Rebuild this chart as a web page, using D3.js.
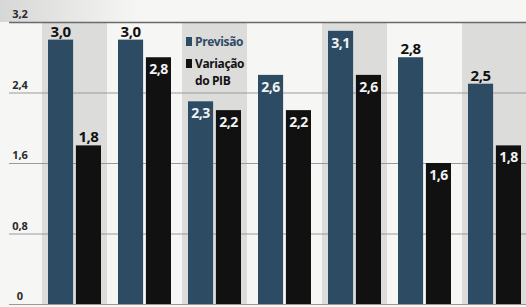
<!DOCTYPE html>
<html>
<head>
<meta charset="utf-8">
<script src="https://cdn.jsdelivr.net/npm/d3@7"></script>
<style>
  body { margin: 0; background: #f6f6f4; }
  svg { display: block; font-family: "Open Sans", sans-serif; }
</style>
</head>
<body>
<script>
// the chart data (no category labels are visible)
let groups = ["1", "2", "3", "4", "5", "6", "7"];
let previsao = [3.0, 3.0, 2.3, 2.6, 3.1, 2.8, 2.5];
let variacao = [1.8, 2.8, 2.2, 2.2, 2.6, 1.6, 1.8];
let yTicks = [0, 0.8, 1.6, 2.4, 3.2];
let seriesNames = ["Previsão", "Variação do PIB"];

let w = 526;
let h = 307;

let blue = "#2e4b64";
let black = "#111111";

// which value labels sit inside the bar top (white) instead of above it
let insidePrev = [false, false, true, true, true, false, false];
let insideVar = [false, true, true, true, true, true, true];

let fmt = (v) => d3.format(".1f")(v).replace(".", ",");

let svg = d3.select("body").append("svg").attr("width", w).attr("height", h);

let yScale = d3.scaleLinear().domain([0, 3.2]).range([304, 22]);

let xScale = d3.scaleBand().domain(groups).range([39, 529]).paddingInner(0);

let xInner = d3.scaleBand()
  .domain(seriesNames)
  .range([9, 62])
  .paddingInner(0.1);

// faint haze at the top left of the scan
let defs = svg.append("defs");
let grad = defs.append("linearGradient").attr("id", "haze")
  .attr("x1", 0).attr("x2", 1).attr("y1", 0).attr("y2", 0);
grad.append("stop").attr("offset", 0).attr("stop-color", "#cfcfcf").attr("stop-opacity", 0.8);
grad.append("stop").attr("offset", 1).attr("stop-color", "#cfcfcf").attr("stop-opacity", 0);
svg.append("rect")
  .attr("x", 0).attr("y", 0)
  .attr("width", 140).attr("height", yScale(3.2))
  .style("fill", "url(#haze)");

// alternating grey columns behind every other group
svg.append("g")
  .selectAll("rect")
  .data(groups.filter((d, i) => i % 2 == 0))
  .enter()
  .append("rect")
  .attr("x", (d) => xScale(d) + 3)
  .attr("y", yScale(3.2))
  .attr("width", xScale.bandwidth() - 5)
  .attr("height", yScale(0) - yScale(3.2))
  .style("fill", "#dcdcdb");

// gridlines
svg.append("g")
  .selectAll("line")
  .data(yTicks)
  .enter()
  .append("line")
  .attr("x1", 9)
  .attr("x2", w)
  .attr("y1", (d) => yScale(d) + 0.5)
  .attr("y2", (d) => yScale(d) + 0.5)
  .style("stroke", (d) => d == 3.2 ? "#6a6a6a" : "#9a9a9a")
  .style("stroke-width", (d) => d == 3.2 ? 1.5 : 1);

// y labels sit just above each gridline
svg.append("g")
  .selectAll("text")
  .data(yTicks)
  .enter()
  .append("text")
  .attr("x", 20)
  .attr("y", (d) => yScale(d) - 4)
  .attr("text-anchor", "middle")
  .style("font-size", "11px")
  .style("font-weight", "bold")
  .style("fill", "#2a2a2a")
  .text((d) => d == 0 ? "0" : fmt(d));

// bars
let rows = groups.map((g, i) => [
  { group: g, series: seriesNames[0], value: previsao[i], inside: insidePrev[i], color: blue },
  { group: g, series: seriesNames[1], value: variacao[i], inside: insideVar[i], color: black }
]).flat();

let barGroup = svg.append("g");

barGroup.selectAll("rect")
  .data(rows)
  .enter()
  .append("rect")
  .attr("x", (d) => xScale(d.group) + xInner(d.series))
  .attr("y", (d) => yScale(d.value))
  .attr("width", xInner.bandwidth())
  .attr("height", (d) => yScale(0) - yScale(d.value))
  .style("fill", (d) => d.color);

barGroup.selectAll("text")
  .data(rows)
  .enter()
  .append("text")
  .attr("x", (d) => xScale(d.group) + xInner(d.series) + xInner.bandwidth() / 2)
  .attr("y", (d) => d.inside ? yScale(d.value) + 17 : yScale(d.value) - 3)
  .attr("text-anchor", "middle")
  .style("font-size", (d) => d.inside ? "14px" : "15px")
  .style("font-weight", "bold")
  .style("letter-spacing", "-0.5px")
  .style("fill", (d) => d.inside ? "#f2f2f2" : "#111")
  .text((d) => fmt(d.value));

// legend in the third column
let legend = svg.append("g").attr("transform", "translate(186, 0)");

legend.append("rect")
  .attr("x", 0).attr("y", 37).attr("width", 6).attr("height", 9)
  .style("fill", blue);
legend.append("text")
  .attr("x", 9).attr("y", 46)
  .style("font-size", "12px").style("font-weight", "bold")
  .style("letter-spacing", "-0.4px")
  .style("fill", blue)
  .text(seriesNames[0]);

legend.append("rect")
  .attr("x", 0).attr("y", 59).attr("width", 6).attr("height", 9)
  .style("fill", black);
// two separate lines so they do not collide
legend.append("text")
  .attr("x", 9).attr("y", 68)
  .style("font-size", "12px").style("font-weight", "bold")
  .style("letter-spacing", "-0.4px")
  .style("fill", black)
  .text("Variação");
legend.append("text")
  .attr("x", 9).attr("y", 85)
  .style("font-size", "12px").style("font-weight", "bold")
  .style("letter-spacing", "-0.4px")
  .style("fill", black)
  .text("do PIB");
</script>
</body>
</html>
